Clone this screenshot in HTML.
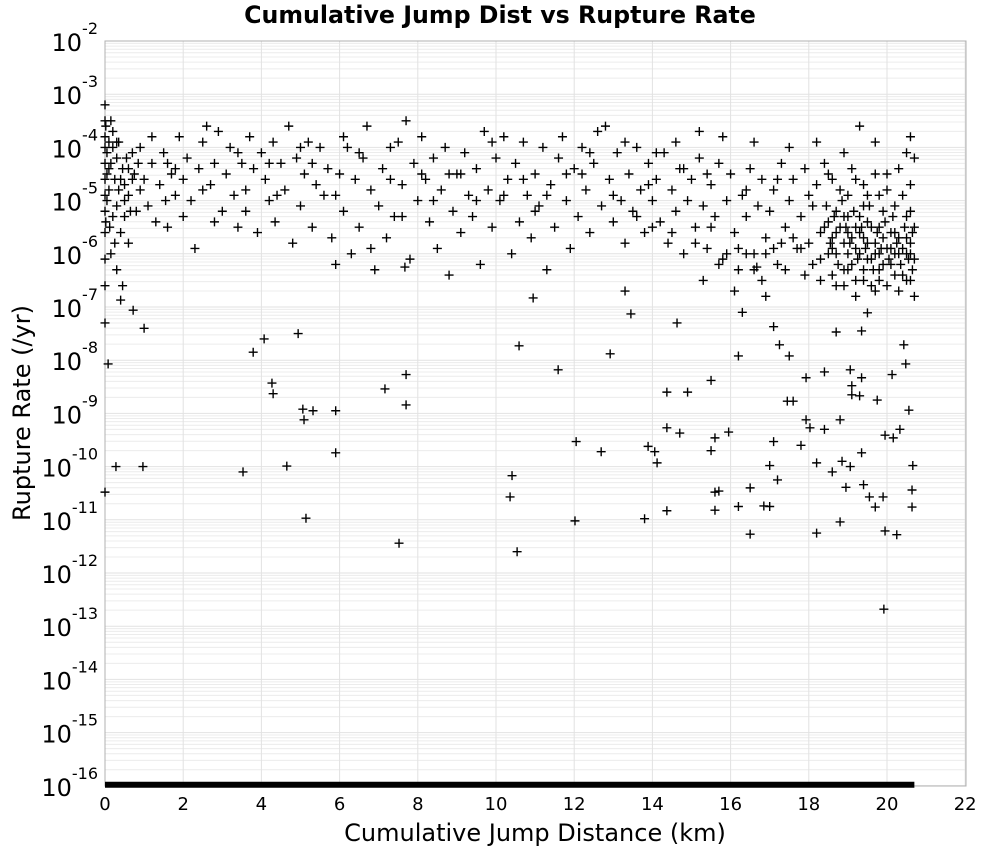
<!DOCTYPE html>
<html><head><meta charset="utf-8"><style>
html,body{margin:0;padding:0;background:#fff}
svg{display:block;font-family:"DejaVu Sans","Liberation Sans",sans-serif}
</style></head><body>
<svg id="chart" width="1000" height="850" viewBox="0 0 1000 850">
<text x="500" y="23" text-anchor="middle" font-size="23.7" font-weight="bold">Cumulative Jump Dist vs Rupture Rate</text>
<text transform="translate(30,413) rotate(-90)" text-anchor="middle" font-size="24">Rupture Rate (/yr)</text>
<text x="535" y="841" text-anchor="middle" font-size="24">Cumulative Jump Distance (km)</text>
<g id="grid"></g><g id="axes"></g><g id="marks"></g>
</svg>
<script>
const xTicks=[0,2,4,6,8,10,12,14,16,18,20,22];
const yExpTicks=[-2,-3,-4,-5,-6,-7,-8,-9,-10,-11,-12,-13,-14,-15,-16];
const zeroRateDist=[0,20.7];
const ruptures=[
[0.08,-8.07],[0,-10.48],[0.28,-10.0],[0.97,-10.0],[1,-7.4],[0.72,-7.06],[0.4,-6.87],[3.53,-10.1],[3.79,-7.85],[4.07,-7.6],[4.27,-8.43],[4.3,-8.63],[4.65,-9.99],[4.94,-7.5],[5.06,-8.92],[5.09,-9.12],[5.32,-8.95],[5.14,-10.97],[5.9,-8.95],[5.9,-9.74],[7.16,-8.54],[7.52,-11.44],[7.7,-8.27],[7.7,-8.84],[7.67,-6.25],[10.41,-10.17],[10.36,-10.57],[10.54,-11.6],[10.59,-7.73],[10.95,-6.83],[11.59,-8.18],[12.05,-9.53],[12.02,-11.02],[12.92,-7.88],[12.69,-9.72],[13.3,-6.7],[13.45,-7.13],[13.8,-10.98],[13.89,-9.62],[14.06,-9.72],[14.12,-9.93],[14.37,-8.6],[14.37,-9.27],[14.37,-10.83],[14.63,-7.3],[14.9,-8.6],[14.7,-9.37],[15.5,-9.7],[15.6,-9.46],[15.5,-8.38],[15.6,-10.48],[15.7,-10.46],[15.6,-10.82],[15.95,-9.35],[16.2,-10.75],[16.2,-7.92],[16.5,-10.4],[16.5,-11.27],[16.3,-7.1],[16.85,-10.74],[17.0,-10.75],[17.0,-9.98],[17.2,-10.25],[17.1,-9.53],[17.25,-7.71],[17.1,-7.37],[17.45,-8.77],[17.6,-8.77],[17.8,-9.6],[17.93,-8.33],[17.93,-9.12],[18.03,-9.27],[18.2,-11.25],[18.2,-9.93],[18.4,-9.3],[18.4,-8.22],[18.6,-10.1],[18.7,-7.47],[18.8,-9.12],[18.85,-9.9],[18.95,-10.39],[19.06,-8.18],[19.1,-8.48],[19.06,-10.0],[19.1,-8.65],[19.35,-8.33],[19.3,-8.67],[19.35,-9.74],[19.4,-10.34],[19.55,-10.57],[19.7,-10.76],[19.75,-8.75],[19.9,-10.57],[19.95,-11.21],[19.92,-12.68],[19.95,-9.41],[20.13,-8.27],[20.16,-9.46],[20.25,-11.28],[20.33,-9.3],[20.43,-7.71],[20.48,-8.07],[20.56,-8.94],[20.64,-10.44],[20.64,-10.76],[20.66,-9.98],[18.8,-11.04],[19.35,-7.45],[19.5,-7.11],[17.5,-7.92],[16.9,-6.8],[16.67,-6.25],
[0,-3.2],[0,-3.5],[0,-3.8],[0,-4.0],[0,-4.3],[0,-4.6],[0,-4.9],[0,-5.2],[0,-5.6],[0,-6.1],[0,-6.6],[0,-7.3],[0.05,-4.1],[0.05,-4.5],[0.05,-5.0],[0.1,-3.9],[0.1,-4.8],[0.12,-5.5],[0.15,-4.3],[0.2,-3.7],[0.2,-5.3],[0.25,-4.6],[0.3,-4.2],[0.3,-5.1],[0.35,-3.9],[0.35,-4.8],[0.4,-5.6],[0.45,-4.4],[0.5,-4.7],[0.5,-5.3],[0.55,-4.2],[0.6,-4.9],[0.7,-4.1],[0.75,-4.5],[0.8,-5.2],[0.85,-4.3],[0.9,-4.8],[1.0,-4.6],[1.1,-5.1],[1.2,-4.3],[1.3,-5.4],[1.4,-4.7],[1.5,-4.1],[1.55,-5.0],[1.6,-5.5],[1.7,-4.5],[1.8,-4.9],[1.9,-3.8],[2.0,-4.6],[2.0,-5.3],[2.1,-4.2],[2.2,-5.0],[2.3,-5.9],[2.4,-4.4],[2.5,-3.9],[2.6,-3.6],[2.7,-4.7],[2.8,-4.3],[2.9,-3.7],[3.0,-5.2],[3.1,-4.5],[3.2,-4.0],[3.3,-4.9],[3.4,-5.5],[3.5,-4.3],[3.6,-4.8],[3.7,-3.8],[3.8,-4.4],[3.9,-5.6],[4.0,-4.1],[4.1,-4.6],[4.2,-5.0],[4.3,-3.9],[4.35,-5.4],[4.5,-4.3],[4.6,-4.8],[4.7,-3.6],[4.8,-5.8],[4.9,-4.2],[5.0,-5.1],[5.1,-4.5],[5.2,-3.9],[5.3,-5.5],[5.4,-4.7],[5.5,-4.0],[5.6,-4.9],[5.7,-4.4],[5.8,-5.7],[5.9,-6.2],[6.0,-4.5],[6.1,-5.2],[6.2,-4.0],[6.3,-6.0],[6.4,-4.6],[6.5,-5.5],[6.6,-4.2],[6.7,-3.6],[6.8,-4.8],[6.9,-6.3],[7.0,-5.1],[7.1,-4.4],[7.2,-5.7],[7.3,-4.0],[7.4,-5.3],[7.5,-3.9],[7.6,-4.7],[7.7,-3.5],[7.8,-6.1],[7.9,-4.3],[8.0,-5.0],[8.1,-3.8],[8.2,-4.6],[8.3,-5.4],[8.4,-4.2],[8.5,-5.9],[8.6,-4.8],[8.7,-4.0],[8.8,-6.4],[8.9,-5.2],[9.0,-4.5],[9.1,-5.6],[9.2,-4.1],[9.3,-4.9],[9.4,-5.3],[9.5,-4.4],[9.6,-6.2],[9.7,-3.7],[9.8,-4.8],[9.9,-5.5],[10.0,-4.2],[10.1,-5.0],[10.2,-3.8],[10.3,-4.6],[10.4,-6.0],[10.5,-4.3],[10.6,-5.4],[10.7,-3.9],[10.8,-4.9],[10.9,-5.7],[11.0,-4.5],[11.1,-5.1],[11.2,-4.0],[11.3,-6.3],[11.4,-4.7],[11.5,-5.5],[11.6,-4.2],[11.7,-3.8],[11.8,-5.0],[11.9,-5.9],[12.0,-4.4],[12.1,-5.3],[12.2,-4.0],[12.3,-4.8],[12.4,-5.6],[12.5,-4.3],[12.6,-3.7],[12.7,-5.1],[12.8,-3.6],[12.9,-4.6],[13.0,-5.4],[13.1,-4.1],[13.2,-5.0],[13.3,-5.8],[13.4,-4.5],[13.5,-5.2],[13.6,-4.0],[13.7,-4.8],[13.8,-5.6],[13.9,-4.3],[14.0,-5.0],[14.1,-4.6],[14.2,-5.4],[14.3,-4.1],[14.4,-5.8],[14.5,-4.8],[14.6,-5.2],[14.7,-4.4],[14.8,-6.0],[14.9,-5.0],[15.0,-4.6],[15.1,-5.5],[15.2,-4.2],[15.3,-5.1],[15.4,-5.9],[15.5,-4.7],[15.6,-5.3],[15.7,-4.3],[15.8,-6.1],[15.9,-5.0],[16.0,-4.5],[16.1,-5.6],[16.2,-6.3],[16.3,-4.9],[16.4,-5.3],[16.5,-4.4],[16.6,-6.0],[16.7,-5.1],[16.8,-4.6],[16.9,-5.7],[17.0,-5.2],[17.1,-4.8],[17.2,-6.2],[17.3,-4.3],[17.4,-5.5],[17.5,-5.0],[17.6,-4.6],[17.7,-5.9],[17.8,-5.3],[17.9,-4.4],[18.0,-5.8],[18.1,-5.1],[18.2,-4.7],[18.3,-6.1],[18.4,-5.5],[18.5,-4.5],[18.6,-5.9],[18.7,-5.2],[18.8,-4.8],[18.9,-6.3],[19.0,-5.6],[19.1,-4.4],[19.2,-5.9],[19.3,-5.3],[19.4,-4.7],[19.5,-6.1],[19.6,-5.5],[19.7,-4.5],[19.8,-6.0],[19.9,-5.2],[20.0,-4.8],[20.1,-6.2],[20.2,-5.6],[20.3,-4.4],[20.4,-5.9],[20.5,-5.3],[20.6,-4.7],[20.65,-6.3],[20.7,-5.5],[20.7,-4.2],[20.7,-6.8],
[18.5,-5.4],[18.6,-5.7],[18.7,-6.0],[18.8,-5.5],[18.9,-5.8],[19.0,-6.0],[19.0,-5.3],[19.1,-6.2],[19.2,-5.5],[19.3,-6.0],[19.4,-5.7],[19.5,-5.4],[19.6,-6.1],[19.7,-5.8],[19.8,-5.5],[19.9,-6.2],[20.0,-5.9],[20.1,-5.6],[20.2,-6.0],[20.3,-5.7],[20.4,-6.4],[20.5,-6.0],[20.6,-5.8],[20.6,-6.5],[19.2,-6.5],[19.6,-6.6],[20.0,-6.6],[18.9,-6.6],[19.4,-6.3],[19.8,-6.3],[18.6,-6.4],[18.3,-5.6],[18.1,-6.2],[17.9,-6.4],[17.6,-5.7],[17.4,-6.3],[17.1,-5.9],[16.8,-6.5],[16.4,-6.0],[16.1,-6.7],[15.7,-6.2],[15.3,-6.5],[19.5,-4.9],[20.0,-4.5],[20.4,-4.9],[19.2,-4.6],[18.4,-4.3],[18.9,-4.1],[19.7,-3.9],[20.5,-4.1],[20.6,-3.8],[19.3,-3.6],[18.2,-3.9],[17.5,-4.0],[16.6,-3.9],[15.8,-3.8],[15.2,-3.7],[14.6,-3.9],[14.1,-4.1],[13.3,-3.9],[12.2,-4.5],[11.3,-4.9],[10.7,-4.6],[9.9,-3.9],[9.1,-4.5],[8.4,-5.0],[7.6,-5.3],[6.8,-5.9],[6.1,-3.8],[5.3,-4.3],[4.4,-4.9],[3.6,-5.2],[2.8,-5.4],[1.8,-4.4],[1.2,-3.8],[0.6,-5.8],[0.9,-4.0],[0.3,-6.3],[0.15,-6.0],[0.45,-6.6],
[18.45,-5.1],[18.55,-5.8],[18.65,-5.3],[18.75,-6.2],[18.85,-5.0],[18.95,-5.5],[19.05,-5.8],[19.15,-5.2],[19.25,-6.1],[19.35,-5.5],[19.45,-5.9],[19.55,-5.1],[19.65,-6.3],[19.75,-5.6],[19.85,-5.9],[19.95,-5.4],[20.05,-6.1],[20.15,-5.3],[20.25,-5.8],[20.35,-6.2],[20.45,-5.5],[20.55,-6.1],[20.65,-5.6],[20.7,-6.1],[18.5,-6.0],[18.7,-5.6],[18.9,-5.3],[19.1,-5.7],[19.3,-5.6],[19.5,-5.8],[19.7,-6.0],[19.9,-5.7],[20.1,-5.9],[20.3,-6.0],[20.5,-5.7],[20.6,-6.0],[19.0,-6.3],[19.4,-6.5],[19.8,-6.5],[20.2,-6.4],[20.5,-6.5],[18.7,-6.6],[19.2,-6.8],[19.7,-6.7],[20.3,-6.7],[18.3,-6.5],[17.8,-5.9],[17.3,-5.8],[16.9,-6.0],[16.6,-6.3],[16.2,-5.9],[15.9,-6.0],[15.5,-5.5],[15.1,-5.8],[14.5,-5.6],[14.0,-5.5],[13.6,-5.3],[18.0,-4.9],[18.6,-4.6],[19.0,-4.9],[19.4,-5.1],[19.8,-4.9],[20.2,-5.1],[20.6,-5.2],[17.2,-4.6],[16.4,-4.8],[15.4,-4.5],[14.8,-4.4],[13.9,-4.7],[13.0,-4.9],[12.4,-4.1],[11.8,-4.5],[11.0,-5.2],[10.2,-4.9],[9.5,-5.0],[8.8,-4.5],[8.1,-4.5],[7.3,-4.6],[6.5,-4.1],[5.9,-4.9],[5.0,-4.0],[4.2,-4.3],[3.4,-4.1],[2.5,-4.8],[1.6,-4.3],[0.7,-4.6],[0.2,-4.0],[0.1,-4.4],[0.02,-3.6],[0.02,-5.4],[0.25,-5.8],[0.4,-4.6],[0.6,-4.4],[0.65,-5.2],[0.5,-5.0],[0.3,-3.9],[0.15,-3.5]
];
const X=v=>105+v*39.1, Y=e=>41+(-2-e)*53.2;
const NS="http://www.w3.org/2000/svg";
function mk(tag,attrs,parent){const el=document.createElementNS(NS,tag);for(const k in attrs)el.setAttribute(k,attrs[k]);parent.appendChild(el);return el;}
const grid=document.getElementById('grid'),axes=document.getElementById('axes'),marks=document.getElementById('marks');
for(let d=-16;d<-2;d++){for(let m=2;m<=9;m++){const y=Y(d+Math.log10(m));const l=mk('line',{x1:105,x2:966,y1:y,y2:y,stroke:'#ececec','stroke-width':1},grid);

}}
yExpTicks.forEach(e=>{const y=Y(e);const l=mk('line',{x1:105,x2:966,y1:y,y2:y,stroke:'#e2e2e2','stroke-width':1},grid);


const t=mk('text',{x:98,y:y+10,'text-anchor':'end','font-size':24},axes);


t.innerHTML='10<tspan dy="-17" font-size="16">'+e+'</tspan>';});
xTicks.forEach(v=>{const x=X(v);const l=mk('line',{x1:x,x2:x,y1:41,y2:786,stroke:'#e2e2e2','stroke-width':1},grid);


const t=mk('text',{x:x,y:810,'text-anchor':'middle','font-size':18},axes);


t.textContent=v;});
const frame=mk('rect',{x:105,y:41,width:861,height:745,fill:'none',stroke:'#b0b0b0','stroke-width':1},axes);


const floor=mk('line',{x1:X(zeroRateDist[0]),x2:X(zeroRateDist[1]),y1:Y(-16)-1,y2:Y(-16)-1,stroke:'#000','stroke-width':6},marks);


ruptures.forEach(p=>{const x=X(p[0]),y=Y(p[1]);
const g=mk('path',{d:`M${x-4.5} ${y}H${x+4.5}M${x} ${y-4.5}V${y+4.5}`,stroke:'#000','stroke-width':1.4,fill:'none'},marks);

});
</script>
</body></html>
